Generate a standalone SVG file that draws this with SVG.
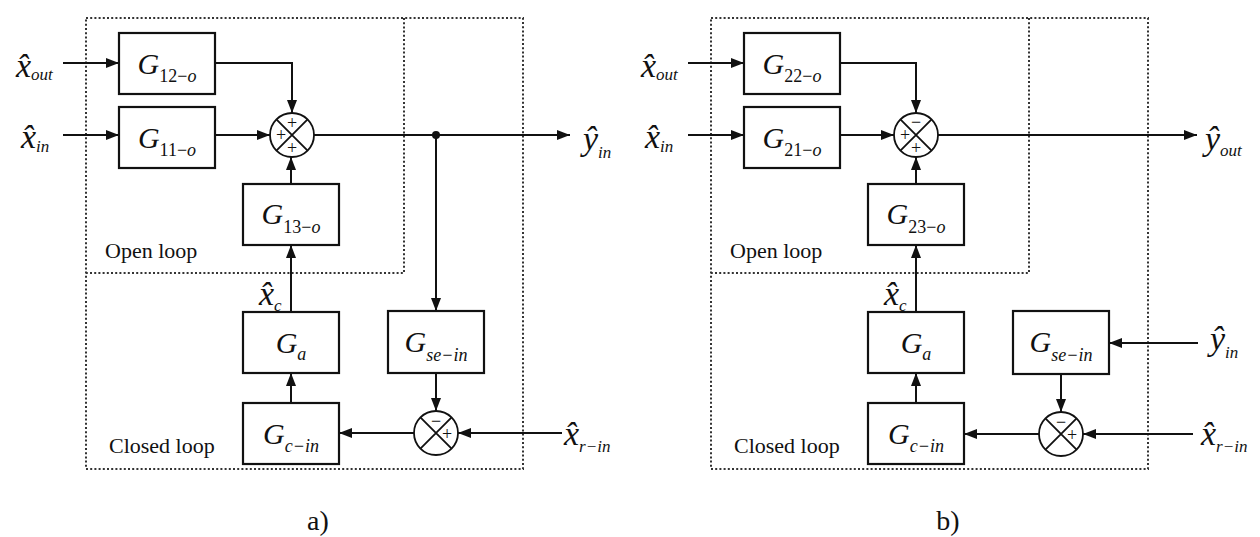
<svg xmlns="http://www.w3.org/2000/svg" width="1260" height="537" viewBox="0 0 1260 537">
<defs>
<marker id="ar" markerUnits="userSpaceOnUse" markerWidth="14" markerHeight="11" refX="13" refY="5" orient="auto">
<path d="M0,0 L13,5 L0,10 z" fill="#111"/>
</marker>
<style>
.box{fill:none;stroke:#111;stroke-width:2.2}
.ln{fill:none;stroke:#111;stroke-width:2}
.ar{marker-end:url(#ar)}
.dot{fill:none;stroke:#333;stroke-width:2;stroke-dasharray:2 2.2}
.sum{fill:none;stroke:#111;stroke-width:1.8}
.g{font-family:"Liberation Serif",serif;font-style:italic;font-size:30px;fill:#111}
.sub{font-size:18px}
.up{font-style:normal}
.v{font-family:"Liberation Serif",serif;font-style:italic;font-size:34px;fill:#111}
.vs{font-size:17px}
.lbl{font-family:"Liberation Serif",serif;font-size:22px;fill:#111}
.sg{font-family:"Liberation Serif",serif;font-size:18px;fill:#111;text-anchor:middle}
.cap{font-family:"Liberation Serif",serif;font-size:28px;fill:#111;text-anchor:middle}
</style>
</defs>
<rect width="1260" height="537" fill="#fff"/>

<!-- Panel a -->
<g id="frame-a">
<rect class="dot" x="86" y="18" width="437" height="451"/>
<path class="dot" d="M404,18 V273 H86"/>
<text class="lbl" x="105" y="258">Open loop</text>
<text class="lbl" x="109" y="453">Closed loop</text>
</g>
<g id="connectors-a">
<path class="ln ar" d="M63,63 H119"/>
<path class="ln ar" d="M63,135 H119"/>
<path class="ln ar" d="M215,63 H292 V113"/>
<path class="ln ar" d="M215,135 H270"/>
<path class="ln ar" d="M291,184 V157"/>
<path class="ln ar" d="M314,135 H570"/>
<circle cx="436" cy="135" r="4" fill="#111"/>
<path class="ln ar" d="M436,135 V311"/>
<path class="ln ar" d="M436,373 V411"/>
<path class="ln ar" d="M562,433 H458"/>
<path class="ln ar" d="M414,433 H339"/>
<path class="ln ar" d="M291,403 V373"/>
<path class="ln ar" d="M291,312 V245"/>
</g>
<g id="G12o"><rect class="box" x="119" y="33" width="96" height="61"/>
<text class="g" x="167" y="74" text-anchor="middle">G<tspan class="sub up" dy="8">12−</tspan><tspan class="sub">o</tspan></text></g>
<g id="G11o"><rect class="box" x="119" y="107" width="96" height="61"/>
<text class="g" x="167" y="148" text-anchor="middle">G<tspan class="sub up" dy="8">11−</tspan><tspan class="sub">o</tspan></text></g>
<g id="G13o"><rect class="box" x="243" y="184" width="96" height="61"/>
<text class="g" x="291" y="224" text-anchor="middle">G<tspan class="sub up" dy="9">13−</tspan><tspan class="sub">o</tspan></text></g>
<g id="Ga-a"><rect class="box" x="243" y="312" width="96" height="61"/>
<text class="g" x="291" y="353" text-anchor="middle">G<tspan class="sub" dy="7">a</tspan></text></g>
<g id="Gcin-a"><rect class="box" x="243" y="403" width="96" height="61"/>
<text class="g" x="291" y="444" text-anchor="middle">G<tspan class="sub" dy="8">c−in</tspan></text></g>
<g id="Gsein-a"><rect class="box" x="388" y="311" width="96" height="62"/>
<text class="g" x="436" y="352" text-anchor="middle">G<tspan class="sub" dy="9">se−in</tspan></text></g>
<g id="sum1-a"><circle class="sum" cx="292" cy="135" r="22"/>
<path class="sum" d="M276.4,119.4 L307.6,150.6 M307.6,119.4 L276.4,150.6"/>
<text class="sg" x="292" y="129">+</text><text class="sg" x="281" y="141">+</text><text class="sg" x="292" y="154">+</text></g>
<g id="sum2-a"><circle class="sum" cx="436" cy="433" r="22"/>
<path class="sum" d="M420.4,417.4 L451.6,448.6 M451.6,417.4 L420.4,448.6"/>
<text class="sg" x="436" y="427">−</text><text class="sg" x="447" y="440">+</text></g>
<g id="labels-a">
<text class="v" x="16" y="77">x̂<tspan class="vs" dy="3">out</tspan></text>
<text class="v" x="21" y="148">x̂<tspan class="vs" dy="4">in</tspan></text>
<text class="v" x="583" y="150">ŷ<tspan class="vs" dy="8">in</tspan></text>
<text class="v" x="564" y="445">x̂<tspan class="vs" dy="7">r−in</tspan></text>
<text class="v" x="259" y="305">x̂<tspan class="vs" dy="6">c</tspan></text>
<text class="cap" x="318" y="530">a)</text>
</g>

<!-- Panel b -->
<g id="frame-b">
<rect class="dot" x="711" y="18" width="437" height="451"/>
<path class="dot" d="M1029,18 V273 H711"/>
<text class="lbl" x="730" y="258">Open loop</text>
<text class="lbl" x="734" y="453">Closed loop</text>
</g>
<g id="connectors-b">
<path class="ln ar" d="M688,63 H744"/>
<path class="ln ar" d="M688,135 H744"/>
<path class="ln ar" d="M840,63 H916 V113"/>
<path class="ln ar" d="M840,135 H894"/>
<path class="ln ar" d="M916,184 V157"/>
<path class="ln ar" d="M938,135 H1197"/>
<path class="ln ar" d="M1198,343 H1109"/>
<path class="ln ar" d="M1061,374 V412"/>
<path class="ln ar" d="M1193,434 H1083"/>
<path class="ln ar" d="M1039,434 H964"/>
<path class="ln ar" d="M916,403 V373"/>
<path class="ln ar" d="M916,312 V245"/>
</g>
<g id="G22o"><rect class="box" x="744" y="33" width="96" height="61"/>
<text class="g" x="792" y="74" text-anchor="middle">G<tspan class="sub up" dy="8">22−</tspan><tspan class="sub">o</tspan></text></g>
<g id="G21o"><rect class="box" x="744" y="107" width="96" height="61"/>
<text class="g" x="792" y="148" text-anchor="middle">G<tspan class="sub up" dy="8">21−</tspan><tspan class="sub">o</tspan></text></g>
<g id="G23o"><rect class="box" x="868" y="184" width="96" height="61"/>
<text class="g" x="916" y="224" text-anchor="middle">G<tspan class="sub up" dy="9">23−</tspan><tspan class="sub">o</tspan></text></g>
<g id="Ga-b"><rect class="box" x="868" y="312" width="96" height="61"/>
<text class="g" x="916" y="353" text-anchor="middle">G<tspan class="sub" dy="7">a</tspan></text></g>
<g id="Gcin-b"><rect class="box" x="868" y="403" width="96" height="61"/>
<text class="g" x="916" y="444" text-anchor="middle">G<tspan class="sub" dy="8">c−in</tspan></text></g>
<g id="Gsein-b"><rect class="box" x="1013" y="311" width="96" height="63"/>
<text class="g" x="1061" y="352" text-anchor="middle">G<tspan class="sub" dy="9">se−in</tspan></text></g>
<g id="sum1-b"><circle class="sum" cx="916" cy="135" r="22"/>
<path class="sum" d="M900.4,119.4 L931.6,150.6 M931.6,119.4 L900.4,150.6"/>
<text class="sg" x="916" y="128">−</text><text class="sg" x="905" y="141">+</text><text class="sg" x="916" y="154">+</text></g>
<g id="sum2-b"><circle class="sum" cx="1061" cy="434" r="22"/>
<path class="sum" d="M1045.4,418.4 L1076.6,449.6 M1076.6,418.4 L1045.4,449.6"/>
<text class="sg" x="1061" y="428">−</text><text class="sg" x="1072" y="441">+</text></g>
<g id="labels-b">
<text class="v" x="641" y="77">x̂<tspan class="vs" dy="3">out</tspan></text>
<text class="v" x="645" y="148">x̂<tspan class="vs" dy="4">in</tspan></text>
<text class="v" x="1205" y="150">ŷ<tspan class="vs" dy="6">out</tspan></text>
<text class="v" x="1210" y="350">ŷ<tspan class="vs" dy="8">in</tspan></text>
<text class="v" x="1201" y="445">x̂<tspan class="vs" dy="7">r−in</tspan></text>
<text class="v" x="884" y="305">x̂<tspan class="vs" dy="6">c</tspan></text>
<text class="cap" x="948" y="530">b)</text>
</g>
</svg>
